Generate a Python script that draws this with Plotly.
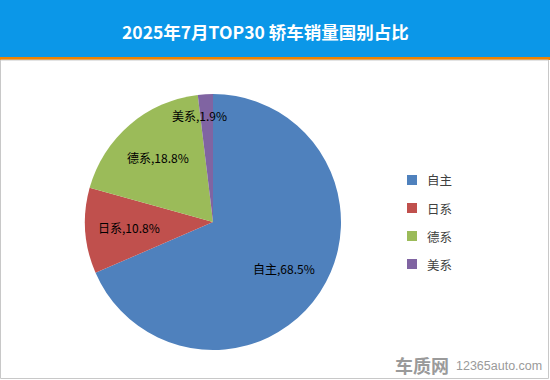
import math
import plotly.graph_objects as go

categories = ["自主", "日系", "德系", "美系"]
values = [68.5, 10.8, 18.8, 1.9]
colors = ["#4F81BD", "#C0504D", "#9BBB59", "#8064A2"]
title_text = "2025年7月TOP30 轿车销量国别占比"

W, H = 550, 380
FONT = "Noto Sans CJK SC"

# pie geometry (pixels -> paper coords)
cx, cy, R = 213, 222, 128
dom_x = [(cx - R) / W, (cx + R) / W]
dom_y = [1 - (cy + R) / H, 1 - (cy - R) / H]

texts = [f"{c},{v}%" for c, v in zip(categories, values)]

fig = go.Figure()
fig.add_trace(go.Pie(
    labels=categories,
    values=values,
    marker=dict(colors=colors, line=dict(color="white", width=0)),
    sort=False,
    direction="clockwise",
    rotation=0,
    textinfo="none",
    hoverinfo="label+percent",
    domain=dict(x=dom_x, y=dom_y),
    showlegend=False,
))

annotations = []
# data labels placed at each slice's mid angle
total = sum(values)
acc = 0
for v, t in zip(values, texts):
    mid = (acc + v / 2) / total * 2 * math.pi
    acc += v
    small = v / total < 0.05
    rr = (0.83 if small else 0.66) * R
    px = cx + rr * math.sin(mid)
    py = cy - rr * math.cos(mid)
    annotations.append(dict(x=px / W, y=1 - py / H, xref="paper", yref="paper",
                            xanchor="center", yanchor="middle",
                            text=t, showarrow=False, xshift=-7 if small else 0,
                            font=dict(family=FONT, size=12, color="#000000")))

# legend (squares + text), one row per category
shapes = [
    dict(type="rect", xref="paper", yref="paper", x0=0, x1=1,
         y0=1 - 57 / H, y1=1, fillcolor="#0B97E8", line=dict(width=0), layer="below"),
    dict(type="rect", xref="paper", yref="paper", x0=0, x1=1,
         y0=1 - 60 / H, y1=1 - 57 / H, fillcolor="#F08300", line=dict(width=0), layer="below"),
    dict(type="rect", xref="paper", yref="paper", x0=0.5 / W, x1=1 - 1.5 / W,
         y0=1.5 / H, y1=1 - 60 / H, fillcolor="rgba(0,0,0,0)",
         line=dict(width=1, color="#C8C8C8"), layer="below"),
]
leg_x, leg_y0, leg_dy, sq = 407, 180, 28, 10
for i, (c, col) in enumerate(zip(categories, colors)):
    yc = leg_y0 + i * leg_dy
    shapes.append(dict(type="rect", xref="paper", yref="paper",
                       x0=leg_x / W, x1=(leg_x + sq) / W,
                       y0=1 - (yc + sq / 2) / H, y1=1 - (yc - sq / 2) / H,
                       fillcolor=col, line=dict(width=0)))
    annotations.append(dict(x=(leg_x + 18) / W, y=1 - yc / H, xref="paper", yref="paper",
                            xanchor="left", yanchor="middle", text=c, showarrow=False,
                            font=dict(family=FONT, size=12.5, color="#404040")))

annotations += [
    dict(x=265 / W, y=1 - 31 / H, xref="paper", yref="paper", text=f"<b>{title_text}</b>",
         xanchor="center", yanchor="middle",
         showarrow=False, font=dict(family=FONT, size=17.5, color="white")),
    dict(x=422 / W, y=1 - 365 / H, xref="paper", yref="paper", text="<b>车质网</b>",
         xanchor="center", yanchor="middle",
         showarrow=False, font=dict(family=FONT, size=18, color="#9a9a9a")),
    dict(x=499 / W, y=1 - 366 / H, xref="paper", yref="paper", text="12365auto.com",
         xanchor="center", yanchor="middle",
         showarrow=False, font=dict(family="Liberation Sans", size=12.5, color="#9a9a9a")),
]

fig.update_layout(
    width=W, height=H,
    margin=dict(l=0, r=0, t=0, b=0),
    paper_bgcolor="white",
    showlegend=False,
    shapes=shapes,
    annotations=annotations,
)

fig.write_html("out.html", config={"displayModeBar": False},
               post_script="document.body.style.margin='0';document.body.style.overflow='hidden';")
